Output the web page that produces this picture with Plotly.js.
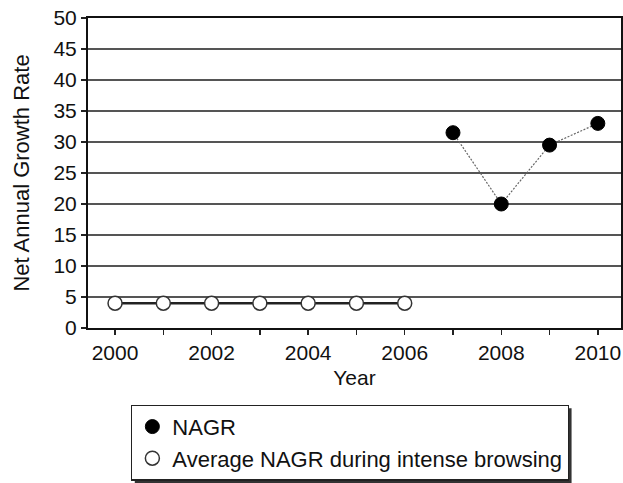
<!DOCTYPE html>
<html>
<head>
<meta charset="utf-8">
<script src="https://cdn.plot.ly/plotly-3.0.1.min.js"></script>
<style>html,body{margin:0;padding:0;background:#fff;}#chart{width:623px;height:483px;}</style>
</head>
<body>
<div id="chart"></div>
<script>
// Data
const nagrYears = [2007, 2008, 2009, 2010];
const nagrValues = [31.5, 20, 29.5, 33];
const avgYears = [2000, 2001, 2002, 2003, 2004, 2005, 2006];
const avgValues = [4, 4, 4, 4, 4, 4, 4];
const xTickVals = [2000, 2001, 2002, 2003, 2004, 2005, 2006, 2007, 2008, 2009, 2010];
const xTickText = ['2000', '', '2002', '', '2004', '', '2006', '', '2008', '', '2010'];
const seriesNames = ['NAGR', 'Average NAGR during intense browsing'];

const font = 'Liberation Sans, Arial, sans-serif';
const ink = '#111';

const traces = [
  {x: nagrYears, y: nagrValues, mode: 'lines', showlegend: false, hoverinfo: 'skip',
   line: {color: '#666', width: 1.2, dash: '2px,1.5px'}},
  {x: avgYears, y: avgValues, mode: 'lines', showlegend: false, hoverinfo: 'skip',
   line: {color: '#222', width: 2.5}},
  {x: nagrYears, y: nagrValues, mode: 'markers', name: seriesNames[0],
   marker: {color: '#000', size: 14, line: {color: '#000', width: 1}}},
  {x: avgYears, y: avgValues, mode: 'markers', name: seriesNames[1],
   marker: {color: '#fff', size: 14, line: {color: '#333', width: 1.5}}}
];

const PL = 88, PT = 18, PW = 533, PH = 310;

const layout = {
  width: 623, height: 483,
  margin: {l: PL, r: 2, t: PT, b: 155},
  paper_bgcolor: '#fff', plot_bgcolor: '#fff',
  font: {family: font, color: ink, size: 21},
  showlegend: true,
  legend: {
    x: 0.081, y: -0.247, xanchor: 'left', yanchor: 'top',
    bgcolor: '#fff', bordercolor: '#222', borderwidth: 1.2,
    font: {family: font, size: 22, color: ink},
    traceorder: 'normal'
  },
  xaxis: {
    range: [1999.44, 2010.48],
    tickmode: 'array', tickvals: xTickVals, ticktext: xTickText,
    ticks: 'outside', ticklen: 5, tickwidth: 1.5, tickcolor: '#222',
    showgrid: false, zeroline: false,
    showline: true, linecolor: '#111', linewidth: 2, mirror: true,
    tickfont: {family: font, size: 21, color: ink},
    title: {text: 'Year', font: {family: font, size: 21, color: ink}, standoff: 7}
  },
  yaxis: {
    range: [0, 50], dtick: 5, tick0: 0,
    ticks: 'outside', ticklen: 5, tickwidth: 1.5, tickcolor: '#222',
    showgrid: true, gridcolor: '#555', gridwidth: 1.4,
    zeroline: false,
    showline: true, linecolor: '#111', linewidth: 2, mirror: true,
    tickfont: {family: font, size: 21, color: ink},
    title: {text: 'Net Annual Growth Rate', font: {family: font, size: 22, color: ink}, standoff: 18}
  },
  shapes: []
};

Plotly.newPlot('chart', traces, layout, {displayModeBar: false, staticPlot: true}).then(function (gd) {
  // drop shadow behind the legend box, sized from the rendered legend
  const bg = gd.querySelector('.legend .bg');
  if (!bg) return;
  const r = bg.getBoundingClientRect();
  const c = gd.getBoundingClientRect();
  const off = 3;
  const x0 = (r.left - c.left + off - PL) / PW;
  const x1 = (r.right - c.left + off - PL) / PW;
  const y0 = (PT + PH - (r.bottom - c.top + off)) / PH;
  const y1 = (PT + PH - (r.top - c.top + off)) / PH;
  return Plotly.relayout(gd, {shapes: [{type: 'rect', xref: 'paper', yref: 'paper', layer: 'below',
    x0: x0, x1: x1, y0: y0, y1: y1, fillcolor: '#333', line: {width: 0}}]});
});
</script>
</body>
</html>
